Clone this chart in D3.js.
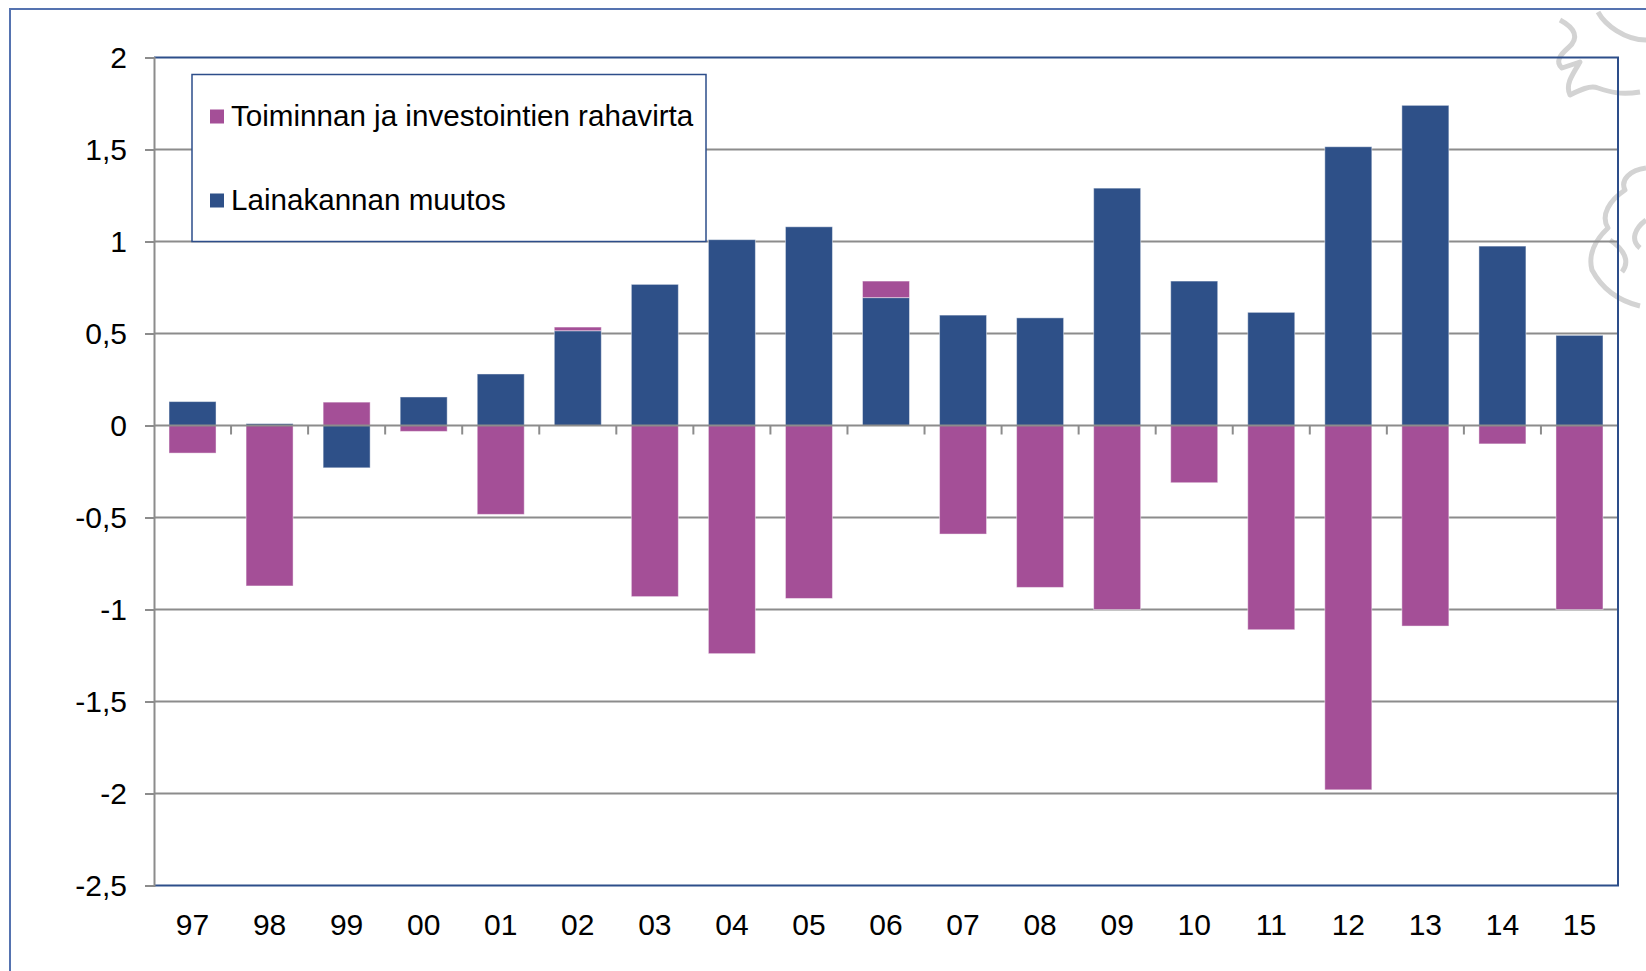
<!DOCTYPE html>
<html>
<head>
<meta charset="utf-8">
<script src="https://cdn.jsdelivr.net/npm/d3@7"></script>
<style>
  body { margin: 0; background: #fff; }
  svg { display: block; font-family: "Liberation Sans", Arial, sans-serif; }
</style>
</head>
<body>
<svg id="chart" width="1646" height="971"></svg>
<script>
// years (x categories)
const years = ['97','98','99','00','01','02','03','04','05','06','07','08','09','10','11','12','13','14','15'];
// Lainakannan muutos (blue, bottom of stack)
const lainakanta = [0.13, 0.01, -0.23, 0.155, 0.28, 0.515, 0.767, 1.01, 1.08, 0.695, 0.6, 0.585, 1.29, 0.785, 0.615, 1.515, 1.74, 0.975, 0.49];
// Toiminnan ja investointien rahavirta (pink)
const rahavirta = [-0.15, -0.872, 0.127, -0.032, -0.483, 0.02, -0.93, -1.24, -0.94, 0.09, -0.59, -0.88, -1.0, -0.311, -1.11, -1.98, -1.09, -0.1, -1.0];
const yTicks = [-2.5, -2, -1.5, -1, -0.5, 0, 0.5, 1, 1.5, 2];
const legendLabels = ['Toiminnan ja investointien rahavirta', 'Lainakannan muutos'];

const colors = {laina: '#2e5088', raha: '#a44f97'};

const svg = d3.select('#chart');

// outer frame (goes off page right/bottom)
svg.append('rect')
  .attr('x', 10).attr('y', 9)
  .attr('width', 1700).attr('height', 1000)
  .attr('fill', 'none')
  .attr('stroke', '#5573b0')
  .attr('stroke-width', 2);

// faint watermark at the right edge
const wm = svg.append('g').attr('fill', 'none').attr('stroke', '#d3d3d3')
  .attr('stroke-width', 5).attr('stroke-linejoin', 'round');
wm.append('path').attr('d', 'M1646,40 C1625,40 1605,25 1598,12 M1560,20 C1575,28 1580,38 1568,48 C1560,55 1555,62 1562,68 L1580,62 C1572,75 1565,85 1570,95 C1580,90 1590,85 1598,88 C1610,92 1620,95 1640,92');
wm.append('path').attr('d', 'M1646,168 C1630,170 1620,180 1625,190 C1610,200 1600,215 1608,228 C1595,240 1588,255 1592,270 C1600,285 1615,300 1640,306 M1646,220 C1635,228 1630,240 1640,248 M1610,240 C1625,250 1630,262 1622,272');

const plotL = 154, plotR = 1618, plotT = 57.5, plotB = 885.5;

const x = d3.scaleBand().domain(years).range([plotL, plotR])
  .paddingInner(0.39).paddingOuter(0.195);
const y = d3.scaleLinear().domain([-2.5, 2]).range([plotB, plotT]);

// gridlines
svg.append('g').selectAll('line')
  .data(yTicks.filter(v => v > -2.5 && v < 2 && v !== 0))
  .enter().append('line')
  .attr('x1', plotL).attr('x2', plotR)
  .attr('y1', d => y(d)).attr('y2', d => y(d))
  .attr('stroke', '#8c8c8c')
  .attr('stroke-width', 2);

// stacked bars
const rows = years.map((yr, i) => ({year: yr, laina: lainakanta[i], raha: rahavirta[i]}));
const stack = d3.stack().keys(['laina', 'raha']).offset(d3.stackOffsetDiverging);
const series = stack(rows);

svg.append('g').selectAll('g')
  .data(series)
  .enter().append('g')
  .attr('fill', d => colors[d.key])
  .selectAll('rect')
  .data(d => d)
  .enter().append('rect')
  .attr('x', d => x(d.data.year))
  .attr('width', x.bandwidth())
  .attr('y', d => y(Math.max(d[0], d[1])))
  .attr('height', d => Math.abs(y(d[0]) - y(d[1])))
  .attr('stroke', '#ffffff')
  .attr('stroke-opacity', 0.45)
  .attr('stroke-width', 1);

// zero axis line + category ticks
svg.append('line')
  .attr('x1', plotL).attr('x2', plotR)
  .attr('y1', y(0)).attr('y2', y(0))
  .attr('stroke', '#8c8c8c').attr('stroke-width', 2);
const step = x.step();
svg.append('g').selectAll('line')
  .data(d3.range(1, years.length + 1))
  .enter().append('line')
  .attr('x1', i => plotL + i * step).attr('x2', i => plotL + i * step)
  .attr('y1', y(0)).attr('y2', y(0) + 9)
  .attr('stroke', '#8c8c8c').attr('stroke-width', 2);

// plot border (top, right, bottom in blue)
svg.append('path')
  .attr('d', `M${plotL},${plotT}H${plotR}V${plotB}H${plotL}`)
  .attr('fill', 'none')
  .attr('stroke', '#2d4e8a')
  .attr('stroke-width', 2);

// y axis
const yAxis = svg.append('g')
  .attr('transform', `translate(${plotL},0)`)
  .call(d3.axisLeft(y).tickValues(yTicks).tickSize(9).tickPadding(18)
    .tickFormat(d => String(d).replace('.', ',')));
yAxis.select('.domain').attr('stroke', '#8c8c8c').attr('stroke-width', 2);
yAxis.selectAll('.tick line').attr('stroke', '#8c8c8c').attr('stroke-width', 2);
yAxis.selectAll('.tick text')
  .attr('font-size', 30)
  .attr('font-family', '"Liberation Sans", Arial, sans-serif')
  .attr('fill', '#000');

// x labels
svg.append('g').selectAll('text')
  .data(years)
  .enter().append('text')
  .attr('x', d => x(d) + x.bandwidth() / 2)
  .attr('y', 935)
  .attr('text-anchor', 'middle')
  .attr('font-size', 30)
  .attr('fill', '#000')
  .text(d => d);

// legend
const legend = svg.append('g');
legend.append('rect')
  .attr('x', 192).attr('y', 74.5)
  .attr('width', 514).attr('height', 167)
  .attr('fill', '#fff')
  .attr('stroke', '#2d4e8a')
  .attr('stroke-width', 1.5);
const legendItems = legend.selectAll('.legend')
  .data([{label: legendLabels[0], color: colors.raha}, {label: legendLabels[1], color: colors.laina}])
  .enter().append('g')
  .attr('class', 'legend')
  .attr('transform', (d, i) => `translate(210,${109.5 + i * 84})`);
legendItems.append('rect')
  .attr('width', 14).attr('height', 14)
  .attr('fill', d => d.color);
legendItems.append('text')
  .attr('x', 21).attr('y', 16.5)
  .attr('font-size', 29.6)
  .attr('fill', '#000')
  .text(d => d.label);
</script>
</body>
</html>
